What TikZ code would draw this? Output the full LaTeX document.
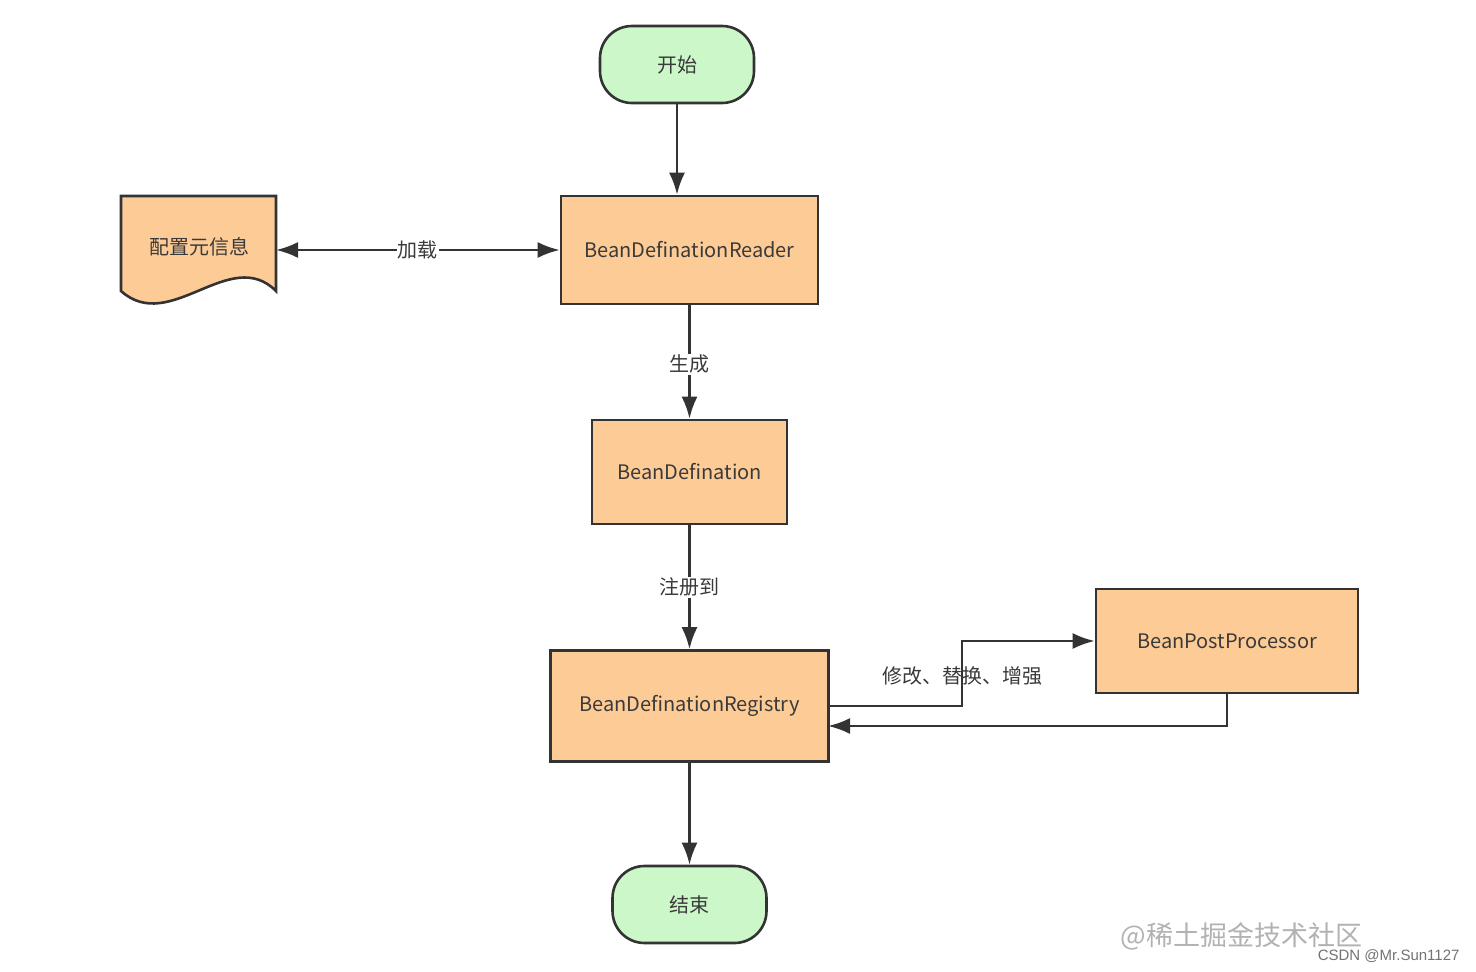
\documentclass[tikz,border=0pt]{standalone}
\usepackage{fontspec}
\setmainfont{Noto Sans CJK SC}
\newfontfamily\csdnfont{Liberation Sans}
\usetikzlibrary{arrows.meta}
\definecolor{boxorange}{HTML}{FDCB96}
\definecolor{boxgreen}{HTML}{CCF7C8}
\definecolor{edgecol}{HTML}{333333}
\definecolor{txtcol}{HTML}{3A3A3A}
\tikzset{
  tip/.style={Latex[length=22pt,width=16pt]},
  procbox/.style={draw=edgecol, line width=2.6pt, fill=boxorange, text=txtcol, font=\fontsize{20}{22}\selectfont, inner sep=0pt},
  termbox/.style={draw=edgecol, line width=2.6pt, fill=boxgreen, text=txtcol, font=\fontsize{20}{22}\selectfont, rounded corners=32pt, inner sep=0pt, minimum width=154pt, minimum height=77pt},
  arr/.style={draw=edgecol, line width=2.6pt, -{Latex[length=22pt,width=16pt]}},
  lbl/.style={fill=white, text=txtcol, font=\fontsize{20}{22}\selectfont, inner sep=1pt}
}
\begin{document}
\begin{tikzpicture}[x=1pt,y=-1pt]
\useasboundingbox[fill=white] (0,0) rectangle (1476,972);
% document shape
\draw[draw=edgecol, line width=2.6pt, fill=boxorange]
  (121,196) -- (276,196) -- (276,291) .. controls (230,245) and (170,335) .. (121,291) -- cycle;
\node[text=txtcol, font=\fontsize{20}{22}\selectfont] (doc) at (199,247) {配置元信息};
\coordinate (docE) at (276,250);
% nodes
\node[termbox] (start) at (677,64.5) {开始};
\node[procbox, minimum width=257pt, minimum height=108pt] (reader) at (689.5,250) {BeanDefinationReader};
\node[procbox, minimum width=195pt, minimum height=104pt] (bdef) at (689.5,472) {BeanDefination};
\node[procbox, minimum width=278pt, minimum height=111pt] (reg) at (689.5,706) {BeanDefinationRegistry};
\node[procbox, minimum width=262pt, minimum height=104pt] (bpp) at (1227,641) {BeanPostProcessor};
\node[termbox] (end) at (689.5,904.5) {结束};
% connectors
\draw[arr] (start.south) -- (start.south |- reader.north);
\draw[arr, {Latex[length=22pt,width=16pt]}-{Latex[length=22pt,width=16pt]}] (docE) -- (docE -| reader.west) node[lbl, pos=0.5] (l1) {加载};
\draw[arr] (reader.south) -- (bdef.north) node[lbl, pos=0.52] (l2) {生成};
\draw[arr] (bdef.south) -- (reg.north) node[lbl, pos=0.5] (l3) {注册到};
\coordinate (bend) at (962,641);
\draw[arr] (reg.east) -| (bend) -- (bpp.west);
\node[text=txtcol, font=\fontsize{20}{22}\selectfont] (l4) at (962,676) {修改、替换、增强};
\coordinate (ret) at (828,726);
\draw[arr] (bpp.south) |- (ret);
\draw[arr] (reg.south) -- (end.north);
% watermark
\node[text=black!30, font=\fontsize{27}{29}\selectfont, anchor=west] (wm1) at (1117,936) {@稀土掘金技术社区};
\node[text=black!55, font=\csdnfont\fontsize{15}{17}\selectfont, anchor=east] (wm2) at (1463,956) {CSDN @Mr.Sun1127};
\end{tikzpicture}
\end{document}
